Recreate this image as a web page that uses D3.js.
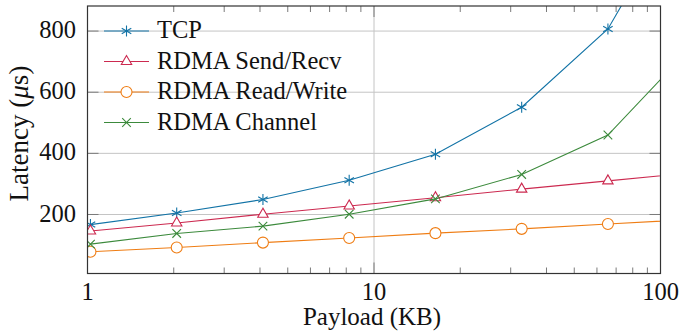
<!DOCTYPE html>
<html>
<head>
<meta charset="utf-8">
<script src="https://cdn.jsdelivr.net/npm/d3@7"></script>
<style>
  html, body { margin: 0; padding: 0; background: #fff; }
  svg { display: block; }
  text { fill: #111; }
</style>
</head>
<body>
<svg id="chart" width="682" height="331"></svg>
<script>
// Payload sizes in KB (powers of two bytes / 1000)
const payloadKB = [1.024, 2.048, 4.096, 8.192, 16.384, 32.768, 65.536, 131.072];

// Latency in microseconds for each transport
const tcpLatency      = [167, 205, 249, 312, 397, 551, 807, 1294];
const sendRecvLatency = [146, 172, 201, 228, 255, 283, 310, 337];
const readWriteLatency= [78, 92, 108, 123, 139, 153, 169, 184];
const channelLatency  = [103, 138, 162, 201, 251, 331, 460, 758];

const seriesNames = ["TCP", "RDMA Send/Recv", "RDMA Read/Write", "RDMA Channel"];
const xTickValues = [1, 10, 100];
const yTickValues = [200, 400, 600, 800];

const series = [
  { name: seriesNames[0], values: tcpLatency,       color: "#1273a6", mark: "asterisk" },
  { name: seriesNames[1], values: sendRecvLatency,  color: "#cc2a50", mark: "triangle" },
  { name: seriesNames[2], values: readWriteLatency, color: "#ef7d14", mark: "circle" },
  { name: seriesNames[3], values: channelLatency,   color: "#3c8a3c", mark: "cross" }
];

const FONT = "Liberation Serif";
const svg = d3.select("#chart");
const plot = { left: 87.5, right: 660.5, top: 6, bottom: 273.5 };

const x = d3.scaleLog().domain([1, 100]).range([plot.left, plot.right]);
const y = d3.scaleLinear().domain([7, 882]).range([plot.bottom, plot.top]);

svg.append("defs").append("clipPath").attr("id", "plot-clip")
  .append("rect")
  .attr("x", plot.left).attr("y", plot.top)
  .attr("width", plot.right - plot.left).attr("height", plot.bottom - plot.top);

// Grid lines
const grid = svg.append("g");
grid.selectAll("line.h").data(yTickValues).join("line")
  .attr("x1", plot.left).attr("x2", plot.right)
  .attr("y1", d => y(d)).attr("y2", d => y(d))
  .attr("stroke", "#c4c4c4").attr("stroke-width", 1);
grid.selectAll("line.v").data([10]).join("line")
  .attr("x1", d => x(d)).attr("x2", d => x(d))
  .attr("y1", plot.top).attr("y2", plot.bottom)
  .attr("stroke", "#c4c4c4").attr("stroke-width", 1);

// Minor ticks on the log axis (inward, top and bottom)
const minor = [];
for (const dec of [1, 10]) for (let k = 2; k <= 9; k++) minor.push(dec * k);
const ticks = svg.append("g").attr("stroke", "#7a7a7a").attr("stroke-width", 1);
ticks.selectAll("line.mb").data(minor).join("line")
  .attr("x1", d => x(d)).attr("x2", d => x(d))
  .attr("y1", plot.bottom).attr("y2", plot.bottom - 6);
ticks.selectAll("line.mt").data(minor).join("line")
  .attr("x1", d => x(d)).attr("x2", d => x(d))
  .attr("y1", plot.top).attr("y2", plot.top + 6);
// Major ticks
ticks.selectAll("line.yl").data(yTickValues).join("line")
  .attr("x1", plot.left).attr("x2", plot.left + 11)
  .attr("y1", d => y(d)).attr("y2", d => y(d));
ticks.selectAll("line.yr").data(yTickValues).join("line")
  .attr("x1", plot.right).attr("x2", plot.right - 11)
  .attr("y1", d => y(d)).attr("y2", d => y(d));
ticks.selectAll("line.xb").data([10]).join("line")
  .attr("x1", d => x(d)).attr("x2", d => x(d))
  .attr("y1", plot.bottom).attr("y2", plot.bottom - 11);
ticks.selectAll("line.xt").data([10]).join("line")
  .attr("x1", d => x(d)).attr("x2", d => x(d))
  .attr("y1", plot.top).attr("y2", plot.top + 11);

// Marker shapes
function drawMark(g, type, color) {
  if (type === "asterisk") {
    const r = 5.5;
    [90, 30, 150].forEach(a => {
      const t = a * Math.PI / 180;
      g.append("line")
        .attr("x1", -r * Math.cos(t)).attr("y1", -r * Math.sin(t))
        .attr("x2", r * Math.cos(t)).attr("y2", r * Math.sin(t))
        .attr("stroke", color).attr("stroke-width", 1.1);
    });
  } else if (type === "triangle") {
    const r = 6;
    const pts = [90, 210, 330].map(a => {
      const t = a * Math.PI / 180;
      return [r * Math.cos(t), -r * Math.sin(t)];
    });
    g.append("path").attr("d", "M" + pts.join("L") + "Z")
      .attr("fill", "#fff").attr("stroke", color).attr("stroke-width", 1.1);
  } else if (type === "circle") {
    g.append("circle").attr("r", 5.5)
      .attr("fill", "#fff").attr("stroke", color).attr("stroke-width", 1.1);
  } else if (type === "cross") {
    const a = 4.3;
    g.append("path").attr("d", `M${-a},${-a}L${a},${a}M${-a},${a}L${a},${-a}`)
      .attr("stroke", color).attr("stroke-width", 1.1);
  }
}

// Series lines and markers
const data = svg.append("g").attr("clip-path", "url(#plot-clip)");
const line = d3.line().x(d => x(d[0])).y(d => y(d[1]));
series.forEach(s => {
  const pts = payloadKB.map((p, i) => [p, s.values[i]]);
  data.append("path").datum(pts)
    .attr("d", line).attr("fill", "none")
    .attr("stroke", s.color).attr("stroke-width", 1.1);
  pts.forEach(p => {
    const g = data.append("g").attr("transform", `translate(${x(p[0])},${y(p[1])})`);
    drawMark(g, s.mark, s.color);
  });
});

// Axis frame
svg.append("rect")
  .attr("x", plot.left).attr("y", plot.top)
  .attr("width", plot.right - plot.left).attr("height", plot.bottom - plot.top)
  .attr("fill", "none").attr("stroke", "#333").attr("stroke-width", 1.2);

// Tick labels
const fs = 24.5;
svg.selectAll("text.xt").data(xTickValues).join("text")
  .attr("font-family", FONT)
  .attr("x", d => x(d)).attr("y", 299.5)
  .attr("text-anchor", "middle").attr("font-size", fs)
  .text(d => d3.format("d")(d));
svg.selectAll("text.yt").data(yTickValues).join("text")
  .attr("font-family", FONT)
  .attr("x", 76).attr("y", d => y(d) + 7.1)
  .attr("text-anchor", "end").attr("font-size", fs)
  .text(d => d);

// Axis titles
svg.append("text")
  .attr("font-family", FONT)
  .attr("x", 372).attr("y", 324.5)
  .attr("text-anchor", "middle").attr("font-size", 25)
  .text("Payload (KB)");
const yl = svg.append("text")
  .attr("font-family", FONT)
  .attr("transform", "translate(28.3,133.5) rotate(-90)")
  .attr("text-anchor", "middle").attr("font-size", 27);
yl.append("tspan").text("Latency (");
yl.append("tspan").attr("font-style", "italic").text("μ");
yl.append("tspan").text("s)");

// Legend
const legend = svg.append("g");
series.forEach((s, i) => {
  const ly = 31 + i * 30.5;
  const g = legend.append("g").attr("transform", `translate(0,${ly})`);
  g.append("line").attr("x1", 104).attr("x2", 149)
    .attr("stroke", s.color).attr("stroke-width", 1.1);
  const m = g.append("g").attr("transform", "translate(126.5,0)");
  drawMark(m, s.mark, s.color);
  g.append("text").attr("x", 157).attr("y", 7.4)
    .attr("font-family", FONT)
    .attr("font-size", fs).text(s.name);
});
</script>
</body>
</html>
